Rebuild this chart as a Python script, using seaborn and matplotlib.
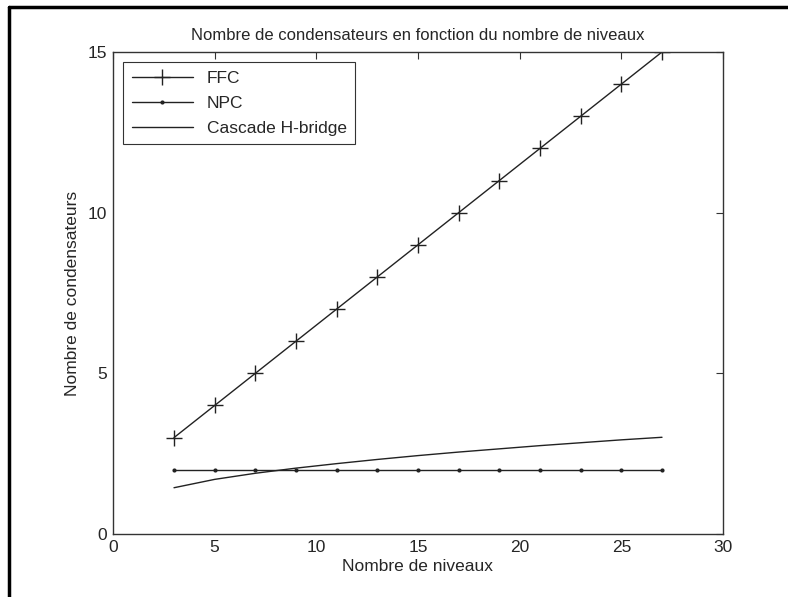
import matplotlib
matplotlib.use("Agg")
import matplotlib.pyplot as plt
import seaborn as sns
from matplotlib.lines import Line2D

# donnees
niveaux = [3, 5, 7, 9, 11, 13, 15, 17, 19, 21, 23, 25, 27]
ffc = [3, 4, 5, 6, 7, 8, 9, 10, 11, 12, 13, 14, 15]
npc = [2, 2, 2, 2, 2, 2, 2, 2, 2, 2, 2, 2, 2]
cascade = [1.44, 1.70, 1.89, 2.05, 2.19, 2.32, 2.44, 2.55, 2.65, 2.75, 2.84, 2.93, 3.01]

sns.set_style("white")
plt.rcParams['font.family'] = ['Liberation Sans', 'DejaVu Sans']

fig = plt.figure(figsize=(7.88, 5.97), dpi=100)
ax = fig.add_axes([113/788, 1-534/597, 610/788, 482/597])

couleur = '#222222'
sns.lineplot(x=niveaux, y=ffc, ax=ax, color=couleur, marker='+', markersize=11,
             markeredgewidth=1.0, markeredgecolor=couleur, linewidth=1.0, label='FFC')
sns.lineplot(x=niveaux, y=npc, ax=ax, color=couleur, marker='o', markersize=3,
             markeredgewidth=0, markerfacecolor=couleur, linewidth=1.0, label='NPC')
sns.lineplot(x=niveaux, y=cascade, ax=ax, color=couleur, linewidth=1.0,
             label='Cascade H-bridge')

ax.set_xlim(0, 30)
ax.set_ylim(0, 15)
ax.set_xticks([0, 5, 10, 15, 20, 25, 30])
ax.set_yticks([0, 5, 10, 15])
ax.tick_params(direction='in', length=5, width=0.8, color='#333333',
               top=True, right=True, labelsize=12.5, pad=4)
for s in ax.spines.values():
    s.set_color('#333333')
    s.set_linewidth(1.0)

ax.set_title('Nombre de condensateurs en fonction du nombre de niveaux', fontsize=12, pad=9)
ax.set_xlabel('Nombre de niveaux', fontsize=12.5, labelpad=3)
ax.set_ylabel('Nombre de condensateurs', fontsize=12.5, labelpad=6)

leg = ax.legend(loc='upper left', fontsize=12.5, fancybox=False, framealpha=1,
                edgecolor='#333333', handlelength=3.5, borderaxespad=0.6,
                labelspacing=0.55, borderpad=0.5)
leg.get_frame().set_linewidth(0.8)

# cadre noir (haut et gauche)
fig.add_artist(Line2D([9/788, 9/788], [0, 1-7/597], color='black', linewidth=2.5,
                      transform=fig.transFigure))
fig.add_artist(Line2D([9/788, 1], [1-7/597, 1-7/597], color='black', linewidth=2.5,
                      transform=fig.transFigure))

fig.savefig('out.png', dpi=100)
